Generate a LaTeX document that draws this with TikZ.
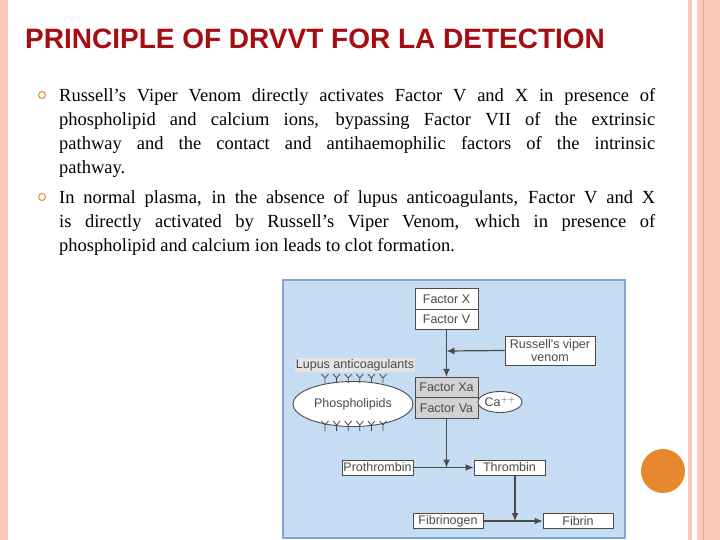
\documentclass[tikz,border=0pt]{standalone}
\usepackage{fontspec}
\setmainfont{Liberation Serif}
\newfontfamily\arialf{Liberation Sans}
\usetikzlibrary{shapes.geometric,arrows.meta}
\definecolor{titlered}{HTML}{A50D12}
\definecolor{pinkb}{HTML}{F9C9B9}
\definecolor{pinkd}{HTML}{EFA58C}
\definecolor{bgblue}{HTML}{C6DCF3}
\definecolor{bdblue}{HTML}{7FA6D6}
\definecolor{bul}{HTML}{E8882E}
\definecolor{gtext}{HTML}{4A4A4A}
\tikzset{
 box/.style={draw=gtext,line width=0.9pt,fill=white,minimum width=63pt,minimum height=20.5pt,inner sep=0pt,font=\arialf\fontsize{12.5}{14}\selectfont,text=gtext},
 gbox/.style={box,fill=gray!35},
 ar/.style={draw=gtext,line width=1.2pt,-{Latex[length=8pt,width=7pt]}},
 ln/.style={draw=gtext,line width=1.2pt},
 body/.style={anchor=north west,text width=596pt,align=justify,inner sep=0pt,font=\fontsize{18.5}{24}\selectfont}
}
\begin{document}
\begin{tikzpicture}[x=1pt,y=-1pt]
\useasboundingbox (0,0) rectangle (720,540);
\fill[white] (0,0) rectangle (720,540);
\fill[pinkb] (0,0) rectangle (8,540);
\fill[pinkb] (688,0) rectangle (692,540);
\fill[pinkb] (697,0) rectangle (720,540);
\draw[pinkd,line width=0.8pt] (703,0) -- (703,540);
\node[anchor=west,inner sep=0pt,text=titlered,font=\arialf\bfseries\fontsize{28}{30}\selectfont] (title) at (25,39) {PRINCIPLE OF DRVVT FOR LA DETECTION};
\node[draw=bul,circle,line width=1pt,minimum size=7pt,inner sep=0pt] (b1) at (42,95) {};
\node[draw=bul,circle,line width=1pt,minimum size=7pt,inner sep=0pt] (b2) at (42,197) {};
\node[body] (p1) at (59,88) {Russell’s Viper Venom directly activates Factor V and X in presence of\linebreak phospholipid and calcium ions, bypassing Factor VII of the extrinsic\linebreak pathway and the contact and antihaemophilic factors of the intrinsic\linebreak pathway.};
\node[body] (p2) at (59,190) {In normal plasma, in the absence of lupus anticoagulants, Factor V and X\linebreak is directly activated by Russell’s Viper Venom, which in presence of\linebreak phospholipid and calcium ion leads to clot formation.};
\fill[bul] (663,471) circle (22);
% diagram
\draw[bdblue,fill=bgblue,line width=1.2pt] (283,280) rectangle (625,538);
\node[box] (fx) at (446.5,299) {Factor X};
\node[box] (fv) at (446.5,319.5) {Factor V};
\node[box,minimum width=90pt,minimum height=29pt,align=center,font=\arialf\fontsize{12.5}{13}\selectfont] (rv) at (550,350.5) {Russell's viper\\venom};
\node[gbox] (fxa) at (446.5,387.5) {Factor Xa};
\node[gbox] (fva) at (446.5,408) {Factor Va};
\node[ellipse,draw=gtext,line width=0.9pt,fill=white,minimum width=44pt,minimum height=21pt,inner sep=0pt,font=\arialf\fontsize{12.5}{14}\selectfont,text=gtext] (ca) at (500,402) {Ca$^{++}$};
\node[ellipse,draw=gtext,line width=0.9pt,fill=white,minimum width=120pt,minimum height=45pt,inner sep=0pt,font=\arialf\fontsize{12.5}{14}\selectfont,text=gtext] (ph) at (353,404) {Phospholipids};
\node[fill=gray!20,inner sep=1pt,font=\arialf\fontsize{12.5}{13}\selectfont,text=gtext] (la) at (355,365) {Lupus anticoagulants};
\foreach \i in {0,...,5}{
 \draw[gtext,line width=0.8pt] (325+11.6*\i,383) -- (325+11.6*\i,378) -- ++(-3.5,-4) (325+11.6*\i,378) -- ++(3.5,-4);
 \draw[gtext,line width=0.8pt] (325+11.6*\i,425) -- (325+11.6*\i,431) (325+11.6*\i,425) -- ++(-3.5,-4) (325+11.6*\i,425) -- ++(3.5,-4);
}
\node[box,minimum width=71pt,minimum height=15pt] (pro) at (377.5,467.5) {Prothrombin};
\node[box,minimum width=71pt,minimum height=15pt] (thr) at (509.5,467.5) {Thrombin};
\node[box,minimum width=70pt,minimum height=15pt] (fbg) at (448,521) {Fibrinogen};
\node[box,minimum width=70pt,minimum height=15pt] (fbn) at (578,521) {Fibrin};
\coordinate (j1) at (446.5,351);
\coordinate (j2) at (446.5,467.5);
\coordinate (j3) at (515,521);
\draw[ln] (fv.south) -- (j1);
\draw[ar] (j1) -- (fxa.north);
\draw[ar] (rv.west) -- (j1);
\draw[ar] (fva.south) -- (j2);
\draw[ar] (pro.east) -- (thr.west);
\draw[ar] (thr.south -| j3) -- (j3);
\draw[ar] (fbg.east) -- (fbn.west);
\end{tikzpicture}
\end{document}
